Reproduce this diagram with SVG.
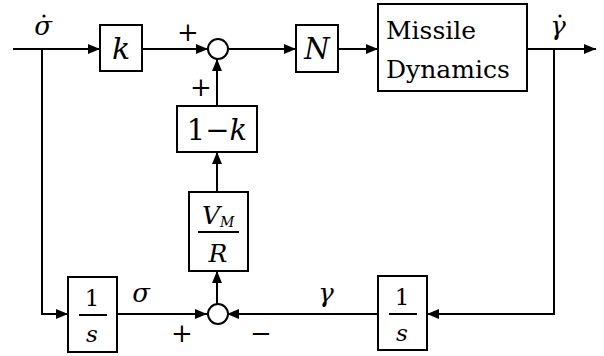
<svg xmlns="http://www.w3.org/2000/svg" width="604" height="356" viewBox="0 0 604 356">
<defs>
<marker id="ah" markerWidth="12" markerHeight="10" refX="12" refY="5" orient="auto" markerUnits="userSpaceOnUse">
<path d="M0,0 L12,5 L0,10 Z" fill="#000"/>
</marker>
</defs>
<style>
.b{fill:#fff;stroke:#000;stroke-width:2}
.c{fill:#fff;stroke:#000;stroke-width:2}
.l{fill:none;stroke:#000;stroke-width:2}
.t{font-family:"DejaVu Serif","Liberation Serif",Tinos,"Times New Roman",Times,serif;fill:#000}
.i{font-style:italic}
</style>
<rect width="604" height="356" fill="#fff"/>
<g id="connectors">
<path class="l" d="M13,49 H100" marker-end="url(#ah)"/>
<path class="l" d="M142,49 H208" marker-end="url(#ah)"/>
<path class="l" d="M228,49 H296" marker-end="url(#ah)"/>
<path class="l" d="M338,49 H378" marker-end="url(#ah)"/>
<path class="l" d="M527,49 H596" marker-end="url(#ah)"/>
<path class="l" d="M217,106 V59" marker-end="url(#ah)"/>
<path class="l" d="M217,192 V152" marker-end="url(#ah)"/>
<path class="l" d="M217,304 V271" marker-end="url(#ah)"/>
<path class="l" d="M42,49 V314 H68" marker-end="url(#ah)"/>
<path class="l" d="M117,314 H207" marker-end="url(#ah)"/>
<path class="l" d="M378,314 H227" marker-end="url(#ah)"/>
<path class="l" d="M554,49 V314 H427" marker-end="url(#ah)"/>
</g>
<g id="k">
<rect class="b" x="100" y="25" width="42" height="46"/>
<text class="t i" x="121" y="59" font-size="30" text-anchor="middle">k</text>
</g>
<g id="sum1">
<circle class="c" cx="218" cy="49" r="10"/>
</g>
<g id="N">
<rect class="b" x="296" y="25" width="42" height="47"/>
<text class="t i" x="317" y="59" font-size="29" text-anchor="middle">N</text>
</g>
<g id="missile">
<rect class="b" x="378" y="4" width="149" height="87"/>
<text class="t" x="386" y="39" font-size="25">Missile</text>
<text class="t" x="386" y="78" font-size="25">Dynamics</text>
</g>
<g id="oneminusk">
<rect class="b" x="177" y="106" width="80" height="46"/>
<text class="t" x="217" y="140" font-size="29" text-anchor="middle">1−<tspan class="i">k</tspan></text>
</g>
<g id="vmr">
<rect class="b" x="189" y="192" width="59" height="79"/>
<text class="t i" x="202" y="224" font-size="25">V<tspan font-size="14" dy="3">M</tspan></text>
<line class="l" x1="198" y1="232" x2="239" y2="232"/>
<text class="t i" x="218" y="262" font-size="25" text-anchor="middle">R</text>
</g>
<g id="sum2">
<circle class="c" cx="218" cy="314" r="10"/>
</g>
<g id="int1">
<rect class="b" x="68" y="277" width="49" height="75"/>
<text class="t" x="92" y="306" font-size="23" text-anchor="middle">1</text>
<line class="l" x1="79" y1="315" x2="107" y2="315"/>
<text class="t i" x="92" y="342" font-size="23" text-anchor="middle">s</text>
</g>
<g id="int2">
<rect class="b" x="378" y="276" width="49" height="74"/>
<text class="t" x="402" y="305" font-size="23" text-anchor="middle">1</text>
<line class="l" x1="389" y1="314" x2="417" y2="314"/>
<text class="t i" x="402" y="341" font-size="23" text-anchor="middle">s</text>
</g>
<g id="labels">
<text class="t i" x="43" y="35" font-size="26" text-anchor="middle">σ</text>
<circle cx="44" cy="16" r="1.6" fill="#000"/>
<text class="t i" x="558" y="35" font-size="26" text-anchor="middle">γ</text>
<circle cx="560" cy="16" r="1.6" fill="#000"/>
<text class="t" x="188" y="41" font-size="26" text-anchor="middle">+</text>
<text class="t" x="201" y="96" font-size="26" text-anchor="middle">+</text>
<text class="t i" x="141" y="302" font-size="26" text-anchor="middle">σ</text>
<text class="t i" x="326" y="302" font-size="26" text-anchor="middle">γ</text>
<text class="t" x="182" y="342" font-size="26" text-anchor="middle">+</text>
<text class="t" x="261" y="342" font-size="26" text-anchor="middle">−</text>
</g>
</svg>
